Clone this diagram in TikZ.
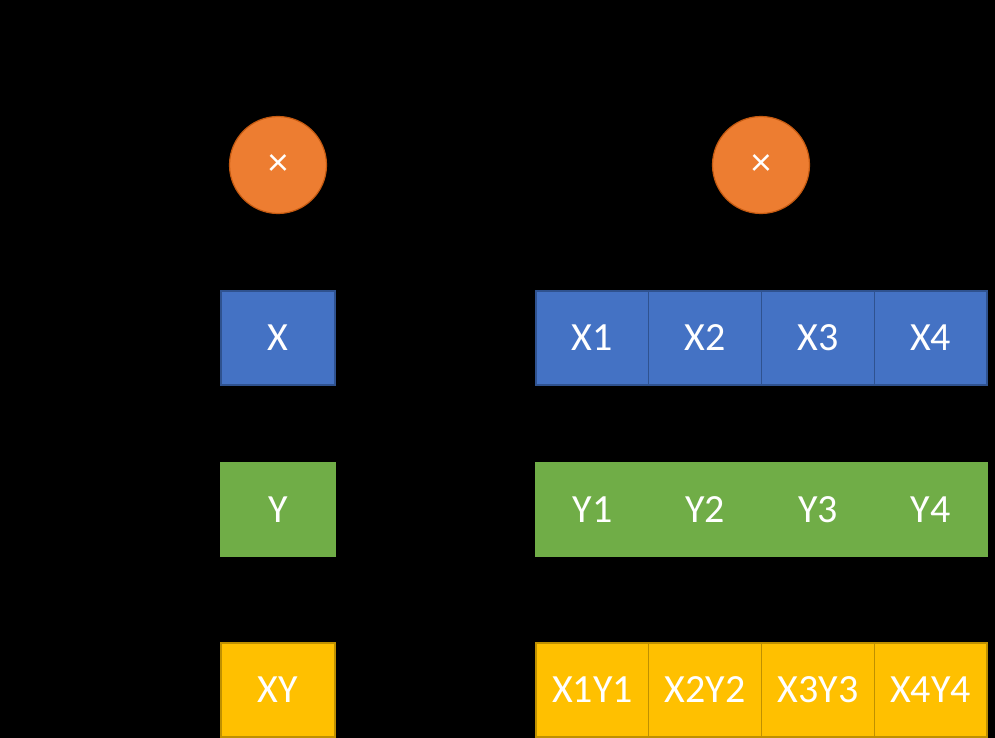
\documentclass[tikz,border=0pt]{standalone}
\usepackage{fontspec}
\setmainfont{Carlito}
\definecolor{xblue}{HTML}{4472C4}
\definecolor{xblueline}{HTML}{2F528F}
\definecolor{ygreen}{HTML}{70AD47}
\definecolor{xyyellow}{HTML}{FFC000}
\definecolor{xyyellowline}{HTML}{BF9000}
\definecolor{mulorange}{HTML}{ED7D31}
\definecolor{mulorangeline}{HTML}{C55A11}
\tikzset{
  cell/.style={rectangle, minimum width=112.75pt, minimum height=94pt, inner sep=0pt,
    outer sep=0pt, line width=1.2pt, text=white, font=\fontsize{40}{48}\selectfont},
  xcell/.style={cell, fill=xblue, draw=xblueline},
  ycell/.style={cell, fill=ygreen, draw=ygreen},
  xycell/.style={cell, fill=xyyellow, draw=xyyellowline},
  mul/.style={circle, minimum size=97pt, inner sep=0pt, line width=1.2pt,
    fill=mulorange, draw=mulorangeline, text=white, font=\fontsize{40}{44}\selectfont}
}
\begin{document}
\begin{tikzpicture}[x=1pt, y=-1pt]
    \fill[black] (0, 0) rectangle (995, 738);
    \useasboundingbox (0, 0) rectangle (995, 738);

    % スカラー
    \node[mul] (M) at (278, 165) {×};
    \node[xcell, minimum width=114pt] (X) at (278, 338) {X};
    \node[ycell, minimum width=114pt] (Y) at (278, 509.5) {Y};
    \node[xycell, minimum width=114pt] (XY) at (278, 690) {XY};

    % ベクトル
    \node[mul] (VM) at (761, 165) {×};
    \node[xcell] (X1) at (592.4, 338) {X1};
    \node[xcell] (X2) at (705.1, 338) {X2};
    \node[xcell] (X3) at (817.9, 338) {X3};
    \node[xcell] (X4) at (930.6, 338) {X4};
    \node[ycell] (Y1) at (592.4, 509.5) {Y1};
    \node[ycell] (Y2) at (705.1, 509.5) {Y2};
    \node[ycell] (Y3) at (817.9, 509.5) {Y3};
    \node[ycell] (Y4) at (930.6, 509.5) {Y4};
    \node[xycell] (X1Y1) at (592.4, 690) {X1Y1};
    \node[xycell] (X2Y2) at (705.1, 690) {X2Y2};
    \node[xycell] (X3Y3) at (817.9, 690) {X3Y3};
    \node[xycell] (X4Y4) at (930.6, 690) {X4Y4};
  \end{tikzpicture}
\end{document}
